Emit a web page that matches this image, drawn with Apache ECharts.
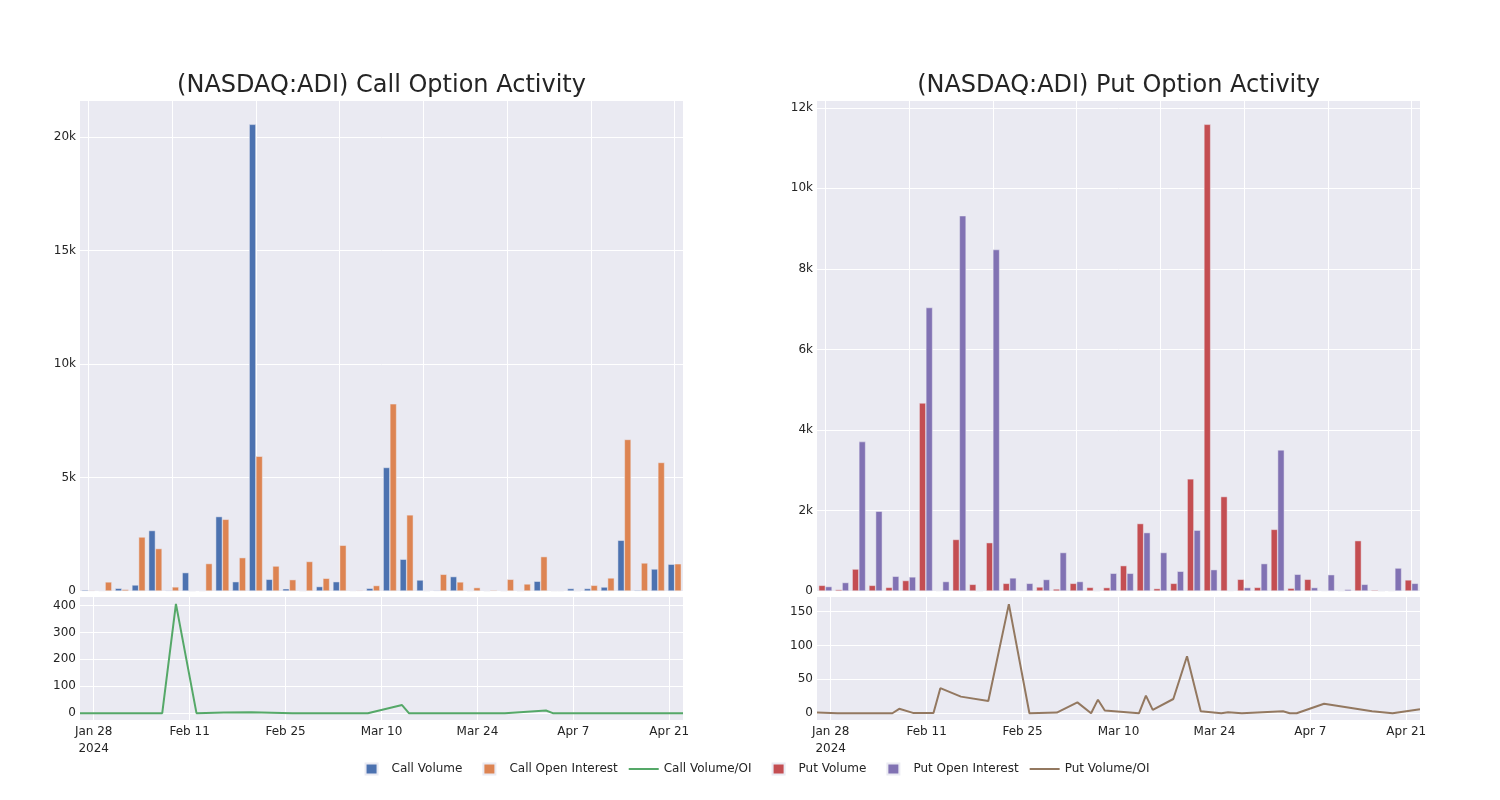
<!DOCTYPE html>
<html>
<head>
<meta charset="utf-8">
<script src="https://cdn.jsdelivr.net/npm/echarts@6/dist/echarts.min.js"></script>
<style>
html,body{margin:0;padding:0;background:#fff;}
#chart{width:1500px;height:800px;}
</style>
</head>
<body>
<div id="chart"></div>
<script>
// ---- data ----
const categories = ['2024-01-26','2024-01-29','2024-01-31','2024-02-02','2024-02-06','2024-02-07','2024-02-09','2024-02-12','2024-02-13','2024-02-14',
  '2024-02-16','2024-02-20','2024-02-22','2024-02-26','2024-02-28','2024-03-01','2024-03-04','2024-03-06','2024-03-07','2024-03-08',
  '2024-03-13','2024-03-14','2024-03-15','2024-03-18','2024-03-20','2024-03-22','2024-03-25','2024-03-26','2024-03-28','2024-04-03',
  '2024-04-04','2024-04-05','2024-04-09','2024-04-16','2024-04-19','2024-04-23'];
const callVolume = [50,20,120,265,2665,30,810,10,3280,410, 20570,515,100,0,195,410,20,120,5445,1400, 485,30,635,10,5,5,0,430,10,110, 110,175,2235,40,970,1180];
const callOI = [30,400,70,2380,1870,180,0,1210,3160,1470, 5940,1100,500,1300,560,2015,30,240,8250,3355, 0,735,400,150,40,515,310,1515,10,0, 250,575,6680,1235,5665,1200];
const putVolume = [140,35,545,140,90,260,4670,10,1280,165, 1200,190,15,100,50,190,90,85,630,1675, 60,190,2785,11590,2345,290,90,1530,70,290, 10,5,1250,25,5,275];
const putOI = [110,210,3710,1980,365,350,7040,235,9320,0, 8480,325,190,285,955,235,0,440,440,1450, 955,490,1510,530,10,85,680,3505,415,85, 405,40,165,0,570,190];

const callRatioDates = ['2024-01-26','2024-02-07','2024-02-09','2024-02-12','2024-02-16','2024-02-20','2024-02-26','2024-03-08','2024-03-13','2024-03-14','2024-03-28','2024-04-03','2024-04-04','2024-04-23'];
const callRatio = [0,0,406,0,2,3,0,0,30,0,0,10,0,0];
const putRatioDates = ['2024-01-26','2024-01-29','2024-02-06','2024-02-07','2024-02-09','2024-02-12','2024-02-13','2024-02-16','2024-02-20','2024-02-23',
  '2024-02-26','2024-03-01','2024-03-04','2024-03-06','2024-03-07','2024-03-08','2024-03-13','2024-03-14','2024-03-15','2024-03-18',
  '2024-03-20','2024-03-22','2024-03-25','2024-03-26','2024-03-28','2024-04-03','2024-04-04','2024-04-05','2024-04-09','2024-04-16',
  '2024-04-19','2024-04-23'];
const putRatio = [1,0,0,6.5,0.5,0.3,37,24.5,18,161, 0,1,16,0,20,4,0,26,5,21, 84,3,0,1.5,0,3,0,0,14,3, 0,6];

const dateTicks = ['2024-01-28','2024-02-11','2024-02-25','2024-03-10','2024-03-24','2024-04-07','2024-04-21'];
const callVolTicks = [0,5000,10000,15000,20000];
const putVolTicks = [0,2000,4000,6000,8000,10000,12000];
const callRatioTicks = [0,100,200,300,400];
const putRatioTicks = [0,50,100,150];

const titles = ['(NASDAQ:ADI) Call Option Activity','(NASDAQ:ADI) Put Option Activity'];
const seriesNames = ['Call Volume','Call Open Interest','Call Volume/OI','Put Volume','Put Open Interest','Put Volume/OI'];
const colors = ['#4C72B0','#DD8452','#55A868','#C44E52','#8172B3','#937860'];

// ---- helpers ----
function ts(s){const p=s.split('-').map(Number);return new Date(p[0],p[1]-1,p[2]).getTime();}
const MONTHS=['Jan','Feb','Mar','Apr','May','Jun','Jul','Aug','Sep','Oct','Nov','Dec'];
const firstTick = ts(dateTicks[0]);
function fmtDate(v){const d=new Date(v);let s=MONTHS[d.getMonth()]+' '+d.getDate();if(Math.abs(v-firstTick)<1000)s+='\n'+d.getFullYear();return s;}
function fmtK(v){return v===0?'0':(v/1000)+'k';}

const TXT='#242424', BG='#EAEAF2', FONT='DejaVu Sans';
const xMin = ts('2024-01-26'), xMax = ts('2024-04-23');

const grids=[
  {left:80,width:603,top:101,height:490},
  {left:80,width:603,top:597,height:123},
  {left:817,width:603,top:101,height:490},
  {left:817,width:603,top:597,height:123}
].map(g=>Object.assign(g,{show:true,backgroundColor:BG,borderWidth:0,containLabel:false}));

function catAxis(gi){
  return {type:'category',gridIndex:gi,data:categories,boundaryGap:true,
    axisLine:{show:false},axisTick:{show:false},axisLabel:{show:false},
    splitLine:{show:true,interval:4,alignWithLabel:true,lineStyle:{color:'#fff',width:1}}};
}
function dateAxis(gi){
  const tv=dateTicks.map(ts);
  return {type:'value',gridIndex:gi,min:xMin,max:xMax,
    axisLine:{show:false},axisTick:{show:false,customValues:tv},
    axisLabel:{customValues:tv,formatter:fmtDate,color:TXT,fontSize:12,fontFamily:FONT,margin:3,lineHeight:17},
    splitLine:{show:true,lineStyle:{color:'#fff',width:1}}};
}
function valAxis(gi,min,max,ticks,fmt){
  return {type:'value',gridIndex:gi,min:min,max:max,
    axisLine:{show:false},axisTick:{show:false,customValues:ticks},
    axisLabel:{customValues:ticks,formatter:fmt,color:TXT,fontSize:12,fontFamily:FONT,margin:4,showMinLabel:true,showMaxLabel:true},
    splitLine:{show:true,lineStyle:{color:'#fff',width:1}}};
}

function bar(name,color,data,xi){
  return {name:name,type:'bar',xAxisIndex:xi,yAxisIndex:xi,data:data,barGap:'0%',barCategoryGap:'20%',
    itemStyle:{color:color,borderColor:BG,borderWidth:0.5},z:2};
}
function line(name,color,dates,vals,xi){
  return {name:name,type:'line',xAxisIndex:xi,yAxisIndex:xi,data:dates.map((d,i)=>[ts(d),vals[i]]),
    showSymbol:false,symbol:'none',lineStyle:{color:color,width:2},itemStyle:{color:color},z:3};
}

// legend icons laid out in a 35x12 box: square centred near 20, line from 5 to 35
const sq='path://M0,0M35,12M14,0.5H26V11.5H14Z', ln='path://M0,0M35,12M5,5H35V7H5Z';
const legendIcons=[sq,sq,ln,sq,sq,ln];

const option={
  animation:false,
  backgroundColor:'#fff',
  textStyle:{fontFamily:FONT,color:TXT},
  grid:grids,
  xAxis:[catAxis(0),dateAxis(1),catAxis(2),dateAxis(3)],
  yAxis:[
    valAxis(0,0,21600,callVolTicks,fmtK),
    valAxis(1,-25.4,431.4,callRatioTicks,null),
    valAxis(2,0,12170,putVolTicks,fmtK),
    valAxis(3,-10,171.5,putRatioTicks,null)
  ],
  legend:{
    left:'center',top:762,padding:0,itemWidth:35,itemHeight:12,itemGap:6,symbolKeepAspect:false,
    textStyle:{color:TXT,fontSize:12,fontFamily:FONT},
    data:seriesNames.map((n,i)=>({name:n,icon:legendIcons[i]}))
  },
  graphic:[
    {type:'text',x:381.5,y:86,style:{text:titles[0],fill:TXT,fontSize:24,fontFamily:FONT,align:'center',verticalAlign:'middle'}},
    {type:'text',x:1118.5,y:86,style:{text:titles[1],fill:TXT,fontSize:24,fontFamily:FONT,align:'center',verticalAlign:'middle'}}
  ],
  series:[
    bar(seriesNames[0],colors[0],callVolume,0),
    bar(seriesNames[1],colors[1],callOI,0),
    line(seriesNames[2],colors[2],callRatioDates,callRatio,1),
    bar(seriesNames[3],colors[3],putVolume,2),
    bar(seriesNames[4],colors[4],putOI,2),
    line(seriesNames[5],colors[5],putRatioDates,putRatio,3)
  ]
};
const chart=echarts.init(document.getElementById('chart'),null,{renderer:'canvas'});
chart.setOption(option);
</script>
</body>
</html>
